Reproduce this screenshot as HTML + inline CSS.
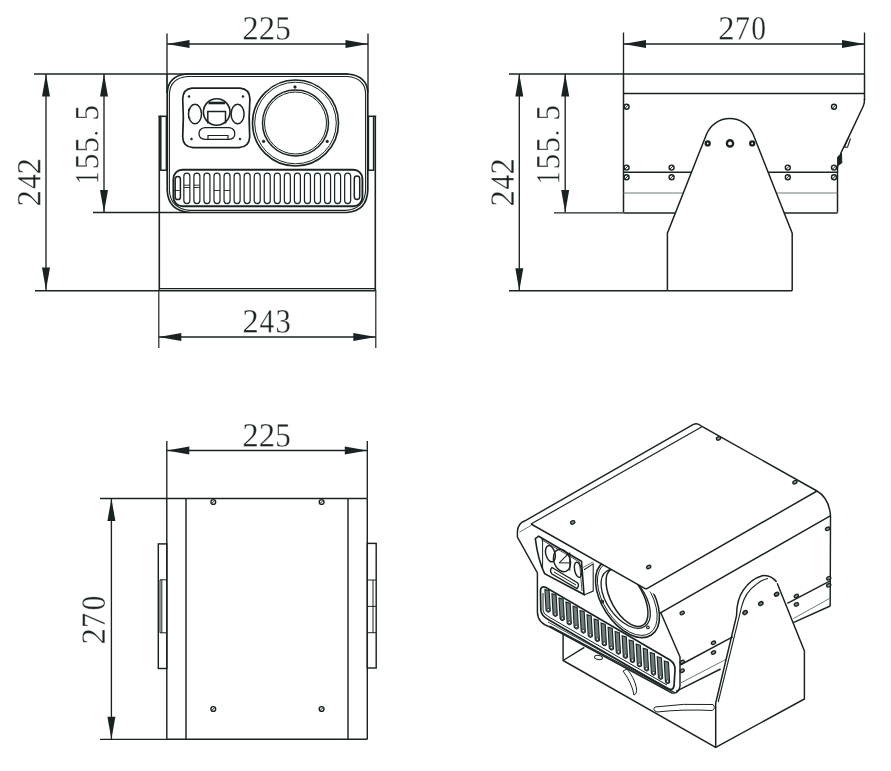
<!DOCTYPE html>
<html><head><meta charset="utf-8"><style>
html,body{margin:0;padding:0;background:#fff;}
svg{display:block;}
</style></head><body>
<svg width="891" height="771" viewBox="0 0 891 771">
<rect width="891" height="771" fill="#fff"/>
<line x1="167" y1="33.5" x2="167" y2="74" stroke="#1a2323" stroke-width="1.35"/>
<line x1="368" y1="33.5" x2="368" y2="93" stroke="#1a2323" stroke-width="1.35"/>
<line x1="167" y1="44" x2="368" y2="44" stroke="#1a2323" stroke-width="1.35"/>
<path d="M167,44 L189.5,40.0 L189.5,48.0 Z" fill="#1a2323"/>
<path d="M368,44 L345.5,40.0 L345.5,48.0 Z" fill="#1a2323"/>
<path d="M911 0H90V147L276 316Q455 473 539.0 570.0Q623 667 659.5 770.0Q696 873 696 1006Q696 1136 637.0 1204.0Q578 1272 444 1272Q391 1272 335.0 1257.5Q279 1243 236 1219L201 1055H135V1313Q317 1356 444 1356Q664 1356 774.5 1264.5Q885 1173 885 1006Q885 894 841.5 794.5Q798 695 708.0 596.5Q618 498 410 321Q321 245 221 154H911Z" transform="matrix(0.015956 0.000000 0.000000 -0.016593 242.364 39.500)" fill="#1a2323" stroke="#fff" stroke-width="0.4" vector-effect="non-scaling-stroke"/>
<path d="M911 0H90V147L276 316Q455 473 539.0 570.0Q623 667 659.5 770.0Q696 873 696 1006Q696 1136 637.0 1204.0Q578 1272 444 1272Q391 1272 335.0 1257.5Q279 1243 236 1219L201 1055H135V1313Q317 1356 444 1356Q664 1356 774.5 1264.5Q885 1173 885 1006Q885 894 841.5 794.5Q798 695 708.0 596.5Q618 498 410 321Q321 245 221 154H911Z" transform="matrix(0.015956 0.000000 0.000000 -0.016593 258.764 39.500)" fill="#1a2323" stroke="#fff" stroke-width="0.4" vector-effect="non-scaling-stroke"/>
<path d="M485 784Q717 784 830.5 689.0Q944 594 944 399Q944 197 821.0 88.5Q698 -20 469 -20Q279 -20 130 23L119 305H185L230 117Q274 93 335.5 78.0Q397 63 453 63Q611 63 685.5 137.5Q760 212 760 389Q760 513 728.0 576.5Q696 640 626.0 670.0Q556 700 438 700Q347 700 260 676H164V1341H844V1188H254V760Q362 784 485 784Z" transform="matrix(0.015273 0.000000 0.000000 -0.016593 275.183 39.500)" fill="#1a2323" stroke="#fff" stroke-width="0.4" vector-effect="non-scaling-stroke"/>
<line x1="34" y1="74" x2="348" y2="74" stroke="#1a2323" stroke-width="1.7"/>
<line x1="35" y1="290.7" x2="159.3" y2="290.7" stroke="#1a2323" stroke-width="1.35"/>
<line x1="46" y1="74" x2="46" y2="290" stroke="#1a2323" stroke-width="1.35"/>
<path d="M46,74 L42.0,96.5 L50.0,96.5 Z" fill="#1a2323"/>
<path d="M46,290 L42.0,267.5 L50.0,267.5 Z" fill="#1a2323"/>
<path d="M911 0H90V147L276 316Q455 473 539.0 570.0Q623 667 659.5 770.0Q696 873 696 1006Q696 1136 637.0 1204.0Q578 1272 444 1272Q391 1272 335.0 1257.5Q279 1243 236 1219L201 1055H135V1313Q317 1356 444 1356Q664 1356 774.5 1264.5Q885 1173 885 1006Q885 894 841.5 794.5Q798 695 708.0 596.5Q618 498 410 321Q321 245 221 154H911Z" transform="matrix(0.000000 -0.015956 -0.016593 0.000000 40.400 206.436)" fill="#1a2323" stroke="#fff" stroke-width="0.4" vector-effect="non-scaling-stroke"/>
<path d="M810 295V0H638V295H40V428L695 1348H810V438H992V295ZM638 1113H633L153 438H638Z" transform="matrix(0.000000 -0.014286 -0.016593 0.000000 40.400 188.871)" fill="#1a2323" stroke="#fff" stroke-width="0.4" vector-effect="non-scaling-stroke"/>
<path d="M911 0H90V147L276 316Q455 473 539.0 570.0Q623 667 659.5 770.0Q696 873 696 1006Q696 1136 637.0 1204.0Q578 1272 444 1272Q391 1272 335.0 1257.5Q279 1243 236 1219L201 1055H135V1313Q317 1356 444 1356Q664 1356 774.5 1264.5Q885 1173 885 1006Q885 894 841.5 794.5Q798 695 708.0 596.5Q618 498 410 321Q321 245 221 154H911Z" transform="matrix(0.000000 -0.015956 -0.016593 0.000000 40.400 174.336)" fill="#1a2323" stroke="#fff" stroke-width="0.4" vector-effect="non-scaling-stroke"/>
<line x1="93" y1="212.5" x2="190" y2="212.5" stroke="#1a2323" stroke-width="1.35"/>
<line x1="104" y1="74" x2="104" y2="212.5" stroke="#1a2323" stroke-width="1.35"/>
<path d="M104,74 L100.0,96.5 L108.0,96.5 Z" fill="#1a2323"/>
<path d="M104,212.5 L100.0,190.0 L108.0,190.0 Z" fill="#1a2323"/>
<path d="M627 80 901 53V0H180V53L455 80V1174L184 1077V1130L575 1352H627Z" transform="matrix(0.000000 -0.012621 -0.016593 0.000000 98.200 184.322)" fill="#1a2323" stroke="#fff" stroke-width="0.4" vector-effect="non-scaling-stroke"/>
<path d="M485 784Q717 784 830.5 689.0Q944 594 944 399Q944 197 821.0 88.5Q698 -20 469 -20Q279 -20 130 23L119 305H185L230 117Q274 93 335.5 78.0Q397 63 453 63Q611 63 685.5 137.5Q760 212 760 389Q760 513 728.0 576.5Q696 640 626.0 670.0Q556 700 438 700Q347 700 260 676H164V1341H844V1188H254V760Q362 784 485 784Z" transform="matrix(0.000000 -0.015273 -0.016593 0.000000 98.200 169.217)" fill="#1a2323" stroke="#fff" stroke-width="0.4" vector-effect="non-scaling-stroke"/>
<path d="M485 784Q717 784 830.5 689.0Q944 594 944 399Q944 197 821.0 88.5Q698 -20 469 -20Q279 -20 130 23L119 305H185L230 117Q274 93 335.5 78.0Q397 63 453 63Q611 63 685.5 137.5Q760 212 760 389Q760 513 728.0 576.5Q696 640 626.0 670.0Q556 700 438 700Q347 700 260 676H164V1341H844V1188H254V760Q362 784 485 784Z" transform="matrix(0.000000 -0.015273 -0.016593 0.000000 98.200 152.717)" fill="#1a2323" stroke="#fff" stroke-width="0.4" vector-effect="non-scaling-stroke"/>
<path d="M485 784Q717 784 830.5 689.0Q944 594 944 399Q944 197 821.0 88.5Q698 -20 469 -20Q279 -20 130 23L119 305H185L230 117Q274 93 335.5 78.0Q397 63 453 63Q611 63 685.5 137.5Q760 212 760 389Q760 513 728.0 576.5Q696 640 626.0 670.0Q556 700 438 700Q347 700 260 676H164V1341H844V1188H254V760Q362 784 485 784Z" transform="matrix(0.000000 -0.015273 -0.016593 0.000000 98.200 120.617)" fill="#1a2323" stroke="#fff" stroke-width="0.4" vector-effect="non-scaling-stroke"/>
<path d="M377 92Q377 43 342.5 7.0Q308 -29 256 -29Q204 -29 169.5 7.0Q135 43 135 92Q135 143 170.0 178.0Q205 213 256 213Q307 213 342.0 178.0Q377 143 377 92Z" transform="matrix(0.000000 -0.012200 -0.012200 0.000000 97.422 136.323)" fill="#1a2323" stroke="#fff" stroke-width="0.4" vector-effect="non-scaling-stroke"/>
<line x1="158.8" y1="290" x2="158.8" y2="348" stroke="#1a2323" stroke-width="1.2"/>
<line x1="375.8" y1="290" x2="375.8" y2="348" stroke="#1a2323" stroke-width="1.2"/>
<line x1="158.8" y1="337" x2="375.8" y2="337" stroke="#1a2323" stroke-width="1.35"/>
<path d="M158.8,337 L181.3,333.0 L181.3,341.0 Z" fill="#1a2323"/>
<path d="M375.8,337 L353.3,333.0 L353.3,341.0 Z" fill="#1a2323"/>
<path d="M911 0H90V147L276 316Q455 473 539.0 570.0Q623 667 659.5 770.0Q696 873 696 1006Q696 1136 637.0 1204.0Q578 1272 444 1272Q391 1272 335.0 1257.5Q279 1243 236 1219L201 1055H135V1313Q317 1356 444 1356Q664 1356 774.5 1264.5Q885 1173 885 1006Q885 894 841.5 794.5Q798 695 708.0 596.5Q618 498 410 321Q321 245 221 154H911Z" transform="matrix(0.015956 0.000000 0.000000 -0.016593 242.364 332.500)" fill="#1a2323" stroke="#fff" stroke-width="0.4" vector-effect="non-scaling-stroke"/>
<path d="M810 295V0H638V295H40V428L695 1348H810V438H992V295ZM638 1113H633L153 438H638Z" transform="matrix(0.014286 0.000000 0.000000 -0.016593 259.579 332.500)" fill="#1a2323" stroke="#fff" stroke-width="0.4" vector-effect="non-scaling-stroke"/>
<path d="M944 365Q944 184 820.0 82.0Q696 -20 469 -20Q279 -20 109 23L98 305H164L209 117Q248 95 319.5 79.0Q391 63 453 63Q610 63 685.0 135.0Q760 207 760 375Q760 507 691.0 575.5Q622 644 477 651L334 659V741L477 750Q590 756 644.0 820.0Q698 884 698 1014Q698 1149 639.5 1210.5Q581 1272 453 1272Q400 1272 342.0 1257.5Q284 1243 240 1219L205 1055H139V1313Q238 1339 310.0 1347.5Q382 1356 453 1356Q883 1356 883 1026Q883 887 806.5 804.5Q730 722 590 702Q772 681 858.0 597.5Q944 514 944 365Z" transform="matrix(0.015130 0.000000 0.000000 -0.016593 275.417 332.500)" fill="#1a2323" stroke="#fff" stroke-width="0.4" vector-effect="non-scaling-stroke"/>
<path d="M186,74 L348,74 Q367.5,76 367.8,93 L367.8,190 Q367,211 347,212.5 L190,212.5 Q168,211 167.2,190 L167.2,93 Q168,76 186,74 Z" stroke="#1a2323" stroke-width="1.7" fill="none"/>
<line x1="167" y1="74" x2="167" y2="93" stroke="#1a2323" stroke-width="1.7"/>
<path d="M188,76.5 L347,76.5 Q365.3,78 365.6,94 L365.6,190 Q365,208.5 346,210.4 L190,210.4 Q170,208.5 169.4,190 L169.4,94 Q170,78 188,76.5 Z" stroke="#1a2323" stroke-width="1.1" fill="none"/>
<rect x="160.8" y="116.3" width="5.6" height="53.9" rx="0" stroke="#1a2323" stroke-width="1.5" fill="none"/>
<line x1="158.3" y1="116.3" x2="160.8" y2="116.3" stroke="#1a2323" stroke-width="1.5"/>
<line x1="159.3" y1="116.3" x2="159.3" y2="290.7" stroke="#1a2323" stroke-width="1.6"/>
<rect x="368.4" y="116.3" width="5.2" height="53.9" rx="0" stroke="#1a2323" stroke-width="1.5" fill="none"/>
<line x1="373.6" y1="116.3" x2="376.2" y2="116.3" stroke="#1a2323" stroke-width="1.5"/>
<line x1="375.3" y1="116.3" x2="375.3" y2="290.7" stroke="#1a2323" stroke-width="1.6"/>
<line x1="159.3" y1="288.6" x2="375.3" y2="288.6" stroke="#1a2323" stroke-width="1.2"/>
<line x1="159.3" y1="290.7" x2="375.3" y2="290.7" stroke="#1a2323" stroke-width="1.4"/>
<path d="M192,88.2 L240,88.2 Q249.6,89 249.9,99 Q248.5,117 249.7,137 Q249.2,147 239,147.6 L193,147.6 Q183,147 182.7,137 Q184,117 182.7,99 Q183,89 192,88.2 Z" stroke="#1a2323" stroke-width="1.7" fill="none"/>
<circle cx="189" cy="96.5" r="0.9" stroke="#1a2323" stroke-width="0.8" fill="#1a2323"/>
<circle cx="243" cy="96.5" r="0.9" stroke="#1a2323" stroke-width="0.8" fill="#1a2323"/>
<circle cx="191.5" cy="139" r="0.9" stroke="#1a2323" stroke-width="0.8" fill="#1a2323"/>
<circle cx="240" cy="139" r="0.9" stroke="#1a2323" stroke-width="0.8" fill="#1a2323"/>
<ellipse cx="195" cy="114" rx="6.5" ry="9.7" transform="rotate(0 195 114)" stroke="#1a2323" stroke-width="1.5" fill="none"/>
<path d="M190.5,109 L188.5,109 L188.5,118 L190.5,118" stroke="#1a2323" stroke-width="1.0" fill="none"/>
<circle cx="216.7" cy="112" r="13.3" stroke="#1a2323" stroke-width="1.6" fill="none"/>
<path d="M207.8,123.5 L207.8,111.6 L225.5,111.6 L225.5,123.5" stroke="#1a2323" stroke-width="1.5" fill="none"/>
<path d="M208.5,103 L225,103" stroke="#1a2323" stroke-width="2.6" fill="none"/>
<ellipse cx="237.6" cy="114" rx="6.5" ry="9.7" transform="rotate(0 237.6 114)" stroke="#1a2323" stroke-width="1.5" fill="none"/>
<path d="M205,127.7 L229,127.7 Q234.8,128.5 234.8,133.5 Q234.8,139 229,139.4 L205,139.4 Q199,139 199,133.5 Q199,128.5 205,127.7 Z" stroke="#1a2323" stroke-width="1.3" fill="none"/>
<path d="M208,139.2 L208,135.5 L228,135.5 L228,139.2" stroke="#1a2323" stroke-width="1.2" fill="none"/>
<circle cx="295.5" cy="123" r="43" stroke="#1a2323" stroke-width="1.6" fill="none"/>
<circle cx="295.5" cy="123" r="40.8" stroke="#1a2323" stroke-width="1.0" fill="none"/>
<circle cx="295.5" cy="123" r="33" stroke="#1a2323" stroke-width="1.5" fill="none"/>
<circle cx="295.5" cy="123" r="31" stroke="#1a2323" stroke-width="1.0" fill="none"/>
<circle cx="295" cy="87" r="1.2" stroke="#1a2323" stroke-width="0.9" fill="#1a2323"/>
<circle cx="263.6" cy="141.4" r="1.2" stroke="#1a2323" stroke-width="0.9" fill="#1a2323"/>
<circle cx="327.2" cy="141.4" r="1.2" stroke="#1a2323" stroke-width="0.9" fill="#1a2323"/>
<rect x="173.4" y="169.8" width="189" height="36.5" rx="9" stroke="#1a2323" stroke-width="1.9" fill="none"/>
<rect x="175.2" y="176.5" width="5.2" height="23" rx="2.6" stroke="#1a2323" stroke-width="1.5" fill="none"/>
<line x1="173.8" y1="190.5" x2="179.8" y2="190.5" stroke="#1a2323" stroke-width="0.9"/>
<rect x="183.85000000000002" y="173.2" width="6.0" height="30.4" rx="3.0" stroke="#1a2323" stroke-width="1.2" fill="none"/>
<line x1="183.85000000000002" y1="185.2" x2="189.85000000000002" y2="185.2" stroke="#1a2323" stroke-width="0.9"/>
<line x1="183.85000000000002" y1="187.5" x2="189.85000000000002" y2="187.5" stroke="#1a2323" stroke-width="0.9"/>
<rect x="193.9" y="173.2" width="6.0" height="30.4" rx="3.0" stroke="#1a2323" stroke-width="1.2" fill="none"/>
<line x1="193.9" y1="185.2" x2="199.9" y2="185.2" stroke="#1a2323" stroke-width="0.9"/>
<line x1="193.9" y1="187.5" x2="199.9" y2="187.5" stroke="#1a2323" stroke-width="0.9"/>
<rect x="203.95000000000002" y="173.2" width="6.0" height="30.4" rx="3.0" stroke="#1a2323" stroke-width="1.2" fill="none"/>
<rect x="214.0" y="173.2" width="6.0" height="30.4" rx="3.0" stroke="#1a2323" stroke-width="1.2" fill="none"/>
<line x1="214.0" y1="190.5" x2="220.0" y2="190.5" stroke="#1a2323" stroke-width="0.9"/>
<rect x="224.05" y="173.2" width="6.0" height="30.4" rx="3.0" stroke="#1a2323" stroke-width="1.2" fill="none"/>
<line x1="224.05" y1="190.5" x2="230.05" y2="190.5" stroke="#1a2323" stroke-width="0.9"/>
<rect x="234.10000000000002" y="173.2" width="6.0" height="30.4" rx="3.0" stroke="#1a2323" stroke-width="1.2" fill="none"/>
<rect x="244.15000000000003" y="173.2" width="6.0" height="30.4" rx="3.0" stroke="#1a2323" stroke-width="1.2" fill="none"/>
<rect x="254.20000000000005" y="173.2" width="6.0" height="30.4" rx="3.0" stroke="#1a2323" stroke-width="1.2" fill="none"/>
<rect x="264.25" y="173.2" width="6.0" height="30.4" rx="3.0" stroke="#1a2323" stroke-width="1.2" fill="none"/>
<rect x="274.3" y="173.2" width="6.0" height="30.4" rx="3.0" stroke="#1a2323" stroke-width="1.2" fill="none"/>
<rect x="284.35" y="173.2" width="6.0" height="30.4" rx="3.0" stroke="#1a2323" stroke-width="1.2" fill="none"/>
<rect x="294.40000000000003" y="173.2" width="6.0" height="30.4" rx="3.0" stroke="#1a2323" stroke-width="1.2" fill="none"/>
<rect x="304.45000000000005" y="173.2" width="6.0" height="30.4" rx="3.0" stroke="#1a2323" stroke-width="1.2" fill="none"/>
<rect x="314.5" y="173.2" width="6.0" height="30.4" rx="3.0" stroke="#1a2323" stroke-width="1.2" fill="none"/>
<rect x="324.55" y="173.2" width="6.0" height="30.4" rx="3.0" stroke="#1a2323" stroke-width="1.2" fill="none"/>
<rect x="334.6" y="173.2" width="6.0" height="30.4" rx="3.0" stroke="#1a2323" stroke-width="1.2" fill="none"/>
<rect x="344.65000000000003" y="173.2" width="6.0" height="30.4" rx="3.0" stroke="#1a2323" stroke-width="1.2" fill="none"/>
<rect x="354.3" y="176" width="5.4" height="23.5" rx="2.7" stroke="#1a2323" stroke-width="1.5" fill="none"/>
<line x1="623.5" y1="32.5" x2="623.5" y2="74" stroke="#1a2323" stroke-width="1.35"/>
<line x1="623.5" y1="74" x2="623.5" y2="212.5" stroke="#1a2323" stroke-width="1.5"/>
<line x1="864.5" y1="32.5" x2="864.5" y2="74" stroke="#1a2323" stroke-width="1.35"/>
<line x1="864.5" y1="74" x2="864.5" y2="100" stroke="#1a2323" stroke-width="1.5"/>
<line x1="623.5" y1="44" x2="864.5" y2="44" stroke="#1a2323" stroke-width="1.35"/>
<path d="M623.5,44 L646.0,40.0 L646.0,48.0 Z" fill="#1a2323"/>
<path d="M864.5,44 L842.0,40.0 L842.0,48.0 Z" fill="#1a2323"/>
<path d="M911 0H90V147L276 316Q455 473 539.0 570.0Q623 667 659.5 770.0Q696 873 696 1006Q696 1136 637.0 1204.0Q578 1272 444 1272Q391 1272 335.0 1257.5Q279 1243 236 1219L201 1055H135V1313Q317 1356 444 1356Q664 1356 774.5 1264.5Q885 1173 885 1006Q885 894 841.5 794.5Q798 695 708.0 596.5Q618 498 410 321Q321 245 221 154H911Z" transform="matrix(0.015956 0.000000 0.000000 -0.016593 718.214 39.500)" fill="#1a2323" stroke="#fff" stroke-width="0.4" vector-effect="non-scaling-stroke"/>
<path d="M201 1024H135V1341H965V1264L367 0H238L825 1188H236Z" transform="matrix(0.014819 0.000000 0.000000 -0.016593 734.849 39.500)" fill="#1a2323" stroke="#fff" stroke-width="0.4" vector-effect="non-scaling-stroke"/>
<path d="M946 676Q946 -20 506 -20Q294 -20 186.0 158.0Q78 336 78 676Q78 1009 186.0 1185.5Q294 1362 514 1362Q726 1362 836.0 1187.5Q946 1013 946 676ZM762 676Q762 998 701.0 1140.0Q640 1282 506 1282Q376 1282 319.0 1148.0Q262 1014 262 676Q262 336 320.0 197.5Q378 59 506 59Q638 59 700.0 204.5Q762 350 762 676Z" transform="matrix(0.014401 0.000000 0.000000 -0.016593 751.277 39.500)" fill="#1a2323" stroke="#fff" stroke-width="0.4" vector-effect="non-scaling-stroke"/>
<line x1="509" y1="74" x2="623.5" y2="74" stroke="#1a2323" stroke-width="1.35"/>
<line x1="623.5" y1="74" x2="864.5" y2="74" stroke="#1a2323" stroke-width="1.5"/>
<line x1="623.5" y1="93.6" x2="864.5" y2="93.6" stroke="#1a2323" stroke-width="1.5"/>
<path d="M864.5,99 Q864.5,104 863.3,106 L849,136.4 L841,152.7 L837.5,167.3 L837.5,212.5" stroke="#1a2323" stroke-width="1.5" fill="none"/>
<path d="M849,136.4 L844.5,147.3 L847.5,147.3 L850.5,138.5" stroke="#1a2323" stroke-width="1.1" fill="none"/>
<path d="M841.5,153.5 L837.6,157 L837.6,165.5 L841.8,163 Z" stroke="#1a2323" stroke-width="1.0" fill="#1a2323"/>
<line x1="623.5" y1="172.2" x2="691.4" y2="172.2" stroke="#1a2323" stroke-width="1.5"/>
<line x1="768.2" y1="172.2" x2="837.5" y2="172.2" stroke="#1a2323" stroke-width="1.5"/>
<line x1="623.5" y1="193" x2="683.2" y2="193" stroke="#6c7c7c" stroke-width="1.2"/>
<line x1="776.4" y1="193" x2="837.5" y2="193" stroke="#6c7c7c" stroke-width="1.2"/>
<line x1="554" y1="212.9" x2="623.5" y2="212.9" stroke="#1a2323" stroke-width="1.35"/>
<line x1="623.5" y1="212.9" x2="675.1" y2="212.9" stroke="#1a2323" stroke-width="1.5"/>
<line x1="783.8" y1="212.9" x2="837.5" y2="212.9" stroke="#1a2323" stroke-width="1.5"/>
<path d="M667.4,290.7 L667.4,233.2 L706.5,134.2 A25.2,25.2 0 0 1 753.1,134.2 L792.2,233.2 L792.2,290.7" stroke="#1a2323" stroke-width="1.5" fill="none"/>
<line x1="509" y1="290.7" x2="667.4" y2="290.7" stroke="#1a2323" stroke-width="1.35"/>
<line x1="667.4" y1="290.7" x2="792.2" y2="290.7" stroke="#1a2323" stroke-width="1.5"/>
<circle cx="707.7" cy="143.4" r="2.0" stroke="#1a2323" stroke-width="2.3" fill="none"/>
<circle cx="730" cy="143.4" r="3.1" stroke="#1a2323" stroke-width="2.4" fill="none"/>
<circle cx="752.2" cy="143.4" r="2.0" stroke="#1a2323" stroke-width="2.3" fill="none"/>
<circle cx="626.6" cy="106.7" r="2.5" stroke="#1a2323" stroke-width="1.4" fill="none"/>
<line x1="625.1" y1="108.2" x2="628.1" y2="105.2" stroke="#1a2323" stroke-width="1.0"/>
<circle cx="834" cy="106.7" r="2.5" stroke="#1a2323" stroke-width="1.4" fill="none"/>
<line x1="832.5" y1="108.2" x2="835.5" y2="105.2" stroke="#1a2323" stroke-width="1.0"/>
<circle cx="626.6" cy="167.6" r="2.5" stroke="#1a2323" stroke-width="1.4" fill="none"/>
<line x1="625.1" y1="169.1" x2="628.1" y2="166.1" stroke="#1a2323" stroke-width="1.0"/>
<circle cx="626.6" cy="177.3" r="2.5" stroke="#1a2323" stroke-width="1.4" fill="none"/>
<line x1="625.1" y1="178.8" x2="628.1" y2="175.8" stroke="#1a2323" stroke-width="1.0"/>
<circle cx="671.6" cy="167.6" r="2.5" stroke="#1a2323" stroke-width="1.4" fill="none"/>
<line x1="670.1" y1="169.1" x2="673.1" y2="166.1" stroke="#1a2323" stroke-width="1.0"/>
<circle cx="671.6" cy="177.3" r="2.5" stroke="#1a2323" stroke-width="1.4" fill="none"/>
<line x1="670.1" y1="178.8" x2="673.1" y2="175.8" stroke="#1a2323" stroke-width="1.0"/>
<circle cx="787.8" cy="167.6" r="2.5" stroke="#1a2323" stroke-width="1.4" fill="none"/>
<line x1="786.3" y1="169.1" x2="789.3" y2="166.1" stroke="#1a2323" stroke-width="1.0"/>
<circle cx="787.8" cy="177.3" r="2.5" stroke="#1a2323" stroke-width="1.4" fill="none"/>
<line x1="786.3" y1="178.8" x2="789.3" y2="175.8" stroke="#1a2323" stroke-width="1.0"/>
<circle cx="834" cy="167.6" r="2.5" stroke="#1a2323" stroke-width="1.4" fill="none"/>
<line x1="832.5" y1="169.1" x2="835.5" y2="166.1" stroke="#1a2323" stroke-width="1.0"/>
<circle cx="834" cy="177.3" r="2.5" stroke="#1a2323" stroke-width="1.4" fill="none"/>
<line x1="832.5" y1="178.8" x2="835.5" y2="175.8" stroke="#1a2323" stroke-width="1.0"/>
<line x1="519.3" y1="74" x2="519.3" y2="290.7" stroke="#1a2323" stroke-width="1.35"/>
<path d="M519.3,74 L515.3,96.5 L523.3,96.5 Z" fill="#1a2323"/>
<path d="M519.3,290.7 L515.3,268.2 L523.3,268.2 Z" fill="#1a2323"/>
<path d="M911 0H90V147L276 316Q455 473 539.0 570.0Q623 667 659.5 770.0Q696 873 696 1006Q696 1136 637.0 1204.0Q578 1272 444 1272Q391 1272 335.0 1257.5Q279 1243 236 1219L201 1055H135V1313Q317 1356 444 1356Q664 1356 774.5 1264.5Q885 1173 885 1006Q885 894 841.5 794.5Q798 695 708.0 596.5Q618 498 410 321Q321 245 221 154H911Z" transform="matrix(0.000000 -0.015956 -0.016593 0.000000 513.800 206.486)" fill="#1a2323" stroke="#fff" stroke-width="0.4" vector-effect="non-scaling-stroke"/>
<path d="M810 295V0H638V295H40V428L695 1348H810V438H992V295ZM638 1113H633L153 438H638Z" transform="matrix(0.000000 -0.014286 -0.016593 0.000000 513.800 189.471)" fill="#1a2323" stroke="#fff" stroke-width="0.4" vector-effect="non-scaling-stroke"/>
<path d="M911 0H90V147L276 316Q455 473 539.0 570.0Q623 667 659.5 770.0Q696 873 696 1006Q696 1136 637.0 1204.0Q578 1272 444 1272Q391 1272 335.0 1257.5Q279 1243 236 1219L201 1055H135V1313Q317 1356 444 1356Q664 1356 774.5 1264.5Q885 1173 885 1006Q885 894 841.5 794.5Q798 695 708.0 596.5Q618 498 410 321Q321 245 221 154H911Z" transform="matrix(0.000000 -0.015956 -0.016593 0.000000 513.800 174.486)" fill="#1a2323" stroke="#fff" stroke-width="0.4" vector-effect="non-scaling-stroke"/>
<line x1="565.2" y1="74" x2="565.2" y2="212.5" stroke="#1a2323" stroke-width="1.35"/>
<path d="M565.2,74 L561.2,96.5 L569.2,96.5 Z" fill="#1a2323"/>
<path d="M565.2,212.5 L561.2,190.0 L569.2,190.0 Z" fill="#1a2323"/>
<path d="M627 80 901 53V0H180V53L455 80V1174L184 1077V1130L575 1352H627Z" transform="matrix(0.000000 -0.012621 -0.016593 0.000000 559.300 184.322)" fill="#1a2323" stroke="#fff" stroke-width="0.4" vector-effect="non-scaling-stroke"/>
<path d="M485 784Q717 784 830.5 689.0Q944 594 944 399Q944 197 821.0 88.5Q698 -20 469 -20Q279 -20 130 23L119 305H185L230 117Q274 93 335.5 78.0Q397 63 453 63Q611 63 685.5 137.5Q760 212 760 389Q760 513 728.0 576.5Q696 640 626.0 670.0Q556 700 438 700Q347 700 260 676H164V1341H844V1188H254V760Q362 784 485 784Z" transform="matrix(0.000000 -0.015273 -0.016593 0.000000 559.300 169.417)" fill="#1a2323" stroke="#fff" stroke-width="0.4" vector-effect="non-scaling-stroke"/>
<path d="M485 784Q717 784 830.5 689.0Q944 594 944 399Q944 197 821.0 88.5Q698 -20 469 -20Q279 -20 130 23L119 305H185L230 117Q274 93 335.5 78.0Q397 63 453 63Q611 63 685.5 137.5Q760 212 760 389Q760 513 728.0 576.5Q696 640 626.0 670.0Q556 700 438 700Q347 700 260 676H164V1341H844V1188H254V760Q362 784 485 784Z" transform="matrix(0.000000 -0.015273 -0.016593 0.000000 559.300 152.617)" fill="#1a2323" stroke="#fff" stroke-width="0.4" vector-effect="non-scaling-stroke"/>
<path d="M485 784Q717 784 830.5 689.0Q944 594 944 399Q944 197 821.0 88.5Q698 -20 469 -20Q279 -20 130 23L119 305H185L230 117Q274 93 335.5 78.0Q397 63 453 63Q611 63 685.5 137.5Q760 212 760 389Q760 513 728.0 576.5Q696 640 626.0 670.0Q556 700 438 700Q347 700 260 676H164V1341H844V1188H254V760Q362 784 485 784Z" transform="matrix(0.000000 -0.015273 -0.016593 0.000000 559.300 120.617)" fill="#1a2323" stroke="#fff" stroke-width="0.4" vector-effect="non-scaling-stroke"/>
<path d="M377 92Q377 43 342.5 7.0Q308 -29 256 -29Q204 -29 169.5 7.0Q135 43 135 92Q135 143 170.0 178.0Q205 213 256 213Q307 213 342.0 178.0Q377 143 377 92Z" transform="matrix(0.000000 -0.012200 -0.012200 0.000000 558.522 136.123)" fill="#1a2323" stroke="#fff" stroke-width="0.4" vector-effect="non-scaling-stroke"/>
<line x1="166.8" y1="441" x2="166.8" y2="498.5" stroke="#1a2323" stroke-width="1.35"/>
<line x1="367.3" y1="441" x2="367.3" y2="498.5" stroke="#1a2323" stroke-width="1.35"/>
<line x1="166.8" y1="498.5" x2="166.8" y2="739.3" stroke="#1a2323" stroke-width="1.45"/>
<line x1="367.3" y1="498.5" x2="367.3" y2="739.3" stroke="#1a2323" stroke-width="1.45"/>
<line x1="166.8" y1="450.5" x2="367.3" y2="450.5" stroke="#1a2323" stroke-width="1.35"/>
<path d="M166.8,450.5 L189.3,446.5 L189.3,454.5 Z" fill="#1a2323"/>
<path d="M367.3,450.5 L344.8,446.5 L344.8,454.5 Z" fill="#1a2323"/>
<path d="M911 0H90V147L276 316Q455 473 539.0 570.0Q623 667 659.5 770.0Q696 873 696 1006Q696 1136 637.0 1204.0Q578 1272 444 1272Q391 1272 335.0 1257.5Q279 1243 236 1219L201 1055H135V1313Q317 1356 444 1356Q664 1356 774.5 1264.5Q885 1173 885 1006Q885 894 841.5 794.5Q798 695 708.0 596.5Q618 498 410 321Q321 245 221 154H911Z" transform="matrix(0.015956 0.000000 0.000000 -0.016593 242.364 446.500)" fill="#1a2323" stroke="#fff" stroke-width="0.4" vector-effect="non-scaling-stroke"/>
<path d="M911 0H90V147L276 316Q455 473 539.0 570.0Q623 667 659.5 770.0Q696 873 696 1006Q696 1136 637.0 1204.0Q578 1272 444 1272Q391 1272 335.0 1257.5Q279 1243 236 1219L201 1055H135V1313Q317 1356 444 1356Q664 1356 774.5 1264.5Q885 1173 885 1006Q885 894 841.5 794.5Q798 695 708.0 596.5Q618 498 410 321Q321 245 221 154H911Z" transform="matrix(0.015956 0.000000 0.000000 -0.016593 258.764 446.500)" fill="#1a2323" stroke="#fff" stroke-width="0.4" vector-effect="non-scaling-stroke"/>
<path d="M485 784Q717 784 830.5 689.0Q944 594 944 399Q944 197 821.0 88.5Q698 -20 469 -20Q279 -20 130 23L119 305H185L230 117Q274 93 335.5 78.0Q397 63 453 63Q611 63 685.5 137.5Q760 212 760 389Q760 513 728.0 576.5Q696 640 626.0 670.0Q556 700 438 700Q347 700 260 676H164V1341H844V1188H254V760Q362 784 485 784Z" transform="matrix(0.015273 0.000000 0.000000 -0.016593 275.183 446.500)" fill="#1a2323" stroke="#fff" stroke-width="0.4" vector-effect="non-scaling-stroke"/>
<line x1="100" y1="498.5" x2="166.8" y2="498.5" stroke="#1a2323" stroke-width="1.35"/>
<line x1="100" y1="739.3" x2="166.8" y2="739.3" stroke="#1a2323" stroke-width="1.35"/>
<line x1="166.8" y1="498.5" x2="367.3" y2="498.5" stroke="#1a2323" stroke-width="1.45"/>
<line x1="166.8" y1="739.3" x2="367.3" y2="739.3" stroke="#1a2323" stroke-width="1.45"/>
<line x1="186" y1="498.5" x2="186" y2="739.3" stroke="#1a2323" stroke-width="1.45"/>
<line x1="348" y1="498.5" x2="348" y2="739.3" stroke="#1a2323" stroke-width="1.45"/>
<line x1="111.4" y1="498.5" x2="111.4" y2="739.3" stroke="#1a2323" stroke-width="1.35"/>
<path d="M111.4,498.5 L107.4,521.0 L115.4,521.0 Z" fill="#1a2323"/>
<path d="M111.4,739.3 L107.4,716.8 L115.4,716.8 Z" fill="#1a2323"/>
<path d="M911 0H90V147L276 316Q455 473 539.0 570.0Q623 667 659.5 770.0Q696 873 696 1006Q696 1136 637.0 1204.0Q578 1272 444 1272Q391 1272 335.0 1257.5Q279 1243 236 1219L201 1055H135V1313Q317 1356 444 1356Q664 1356 774.5 1264.5Q885 1173 885 1006Q885 894 841.5 794.5Q798 695 708.0 596.5Q618 498 410 321Q321 245 221 154H911Z" transform="matrix(0.000000 -0.015956 -0.016593 0.000000 104.800 644.436)" fill="#1a2323" stroke="#fff" stroke-width="0.4" vector-effect="non-scaling-stroke"/>
<path d="M201 1024H135V1341H965V1264L367 0H238L825 1188H236Z" transform="matrix(0.000000 -0.014819 -0.016593 0.000000 104.800 628.101)" fill="#1a2323" stroke="#fff" stroke-width="0.4" vector-effect="non-scaling-stroke"/>
<path d="M946 676Q946 -20 506 -20Q294 -20 186.0 158.0Q78 336 78 676Q78 1009 186.0 1185.5Q294 1362 514 1362Q726 1362 836.0 1187.5Q946 1013 946 676ZM762 676Q762 998 701.0 1140.0Q640 1282 506 1282Q376 1282 319.0 1148.0Q262 1014 262 676Q262 336 320.0 197.5Q378 59 506 59Q638 59 700.0 204.5Q762 350 762 676Z" transform="matrix(0.000000 -0.014401 -0.016593 0.000000 104.800 610.373)" fill="#1a2323" stroke="#fff" stroke-width="0.4" vector-effect="non-scaling-stroke"/>
<rect x="158.3" y="543.9" width="8.5" height="124.6" rx="0" stroke="#1a2323" stroke-width="1.45" fill="none"/>
<path d="M166.8,579.8 L160,579.8 M160,579.8 L160,632.8 L166.8,632.8 M161.8,579.8 L161.8,632.8" stroke="#1a2323" stroke-width="1.0" fill="none"/>
<rect x="367.3" y="543.4" width="8.9" height="124.6" rx="0" stroke="#1a2323" stroke-width="1.45" fill="none"/>
<path d="M367.3,580 L376.2,580 M367.3,606.4 L376.2,606.4 M367.3,632.7 L376.2,632.7 M373,580 L373,632.7" stroke="#1a2323" stroke-width="1.0" fill="none"/>
<circle cx="213.3" cy="502" r="2.4" stroke="#1a2323" stroke-width="1.4" fill="none"/>
<line x1="211.86" y1="503.44" x2="214.74" y2="500.56" stroke="#1a2323" stroke-width="1.0"/>
<circle cx="321.6" cy="502" r="2.4" stroke="#1a2323" stroke-width="1.4" fill="none"/>
<line x1="320.16" y1="503.44" x2="323.04" y2="500.56" stroke="#1a2323" stroke-width="1.0"/>
<circle cx="213.3" cy="709" r="2.4" stroke="#1a2323" stroke-width="1.4" fill="none"/>
<line x1="211.86" y1="710.44" x2="214.74" y2="707.56" stroke="#1a2323" stroke-width="1.0"/>
<circle cx="321.6" cy="709" r="2.4" stroke="#1a2323" stroke-width="1.4" fill="none"/>
<line x1="320.16" y1="710.44" x2="323.04" y2="707.56" stroke="#1a2323" stroke-width="1.0"/>
<path d="M517.4,532 Q517.5,523.5 525,520.8 L693.4,424.4 Q697.5,422.3 701.5,426.2 L817,491 Q829,498 830.5,515.6 L830.2,606" stroke="#1a2323" stroke-width="1.45" fill="none"/>
<line x1="531" y1="524" x2="701.5" y2="427" stroke="#1a2323" stroke-width="1.2"/>
<line x1="531" y1="524" x2="646" y2="589.2" stroke="#1a2323" stroke-width="1.45"/>
<line x1="646" y1="589.2" x2="817" y2="491" stroke="#1a2323" stroke-width="1.45"/>
<line x1="659.5" y1="613.4" x2="830.7" y2="515.6" stroke="#1a2323" stroke-width="1.45"/>
<line x1="519.3" y1="532.2" x2="531" y2="525.5" stroke="#6c7c7c" stroke-width="1.0"/>
<path d="M517.4,532 L517.4,537 L537.4,573 L537.4,612 Q537.5,623 550,627 L672,693 Q679,694 680,686 L680,657 L660.5,612" stroke="#1a2323" stroke-width="1.45" fill="none"/>
<path d="M535.3,538.6 L538.7,536.2 L581.5,561.2 L584,594.5 L544.6,573.6 Q538,560 535.3,538.6 Z" stroke="#1a2323" stroke-width="1.6" fill="none"/>
<path d="M584,569.7 L593.2,563.9 L593.2,591.1 L584,595" stroke="#1a2323" stroke-width="1.1" fill="none"/>
<line x1="582.5" y1="567.8" x2="593.2" y2="561.9" stroke="#6c7c7c" stroke-width="1.0"/>
<path d="M542.6,538.6 L542.6,568.7" stroke="#1a2323" stroke-width="1.0" fill="none"/>
<path d="M541,539.5 L579.5,562 L582,591" stroke="#1a2323" stroke-width="0.8" fill="none"/>
<ellipse cx="550.4" cy="553.7" rx="4.6" ry="8.3" transform="rotate(-15 550.4 553.7)" stroke="#1a2323" stroke-width="1.5" fill="none"/>
<ellipse cx="562" cy="560.5" rx="8.2" ry="11.5" transform="rotate(-20 562 560.5)" stroke="#1a2323" stroke-width="1.4" fill="none"/>
<line x1="559.2" y1="562.9" x2="568.9" y2="553.2" stroke="#1a2323" stroke-width="1.1"/>
<line x1="569.8" y1="552.5" x2="569.8" y2="570.7" stroke="#1a2323" stroke-width="1.1"/>
<line x1="559.2" y1="562.9" x2="569.8" y2="562.9" stroke="#1a2323" stroke-width="1.0"/>
<ellipse cx="578" cy="569.8" rx="3.4" ry="7.7" transform="rotate(-12 578 569.8)" stroke="#1a2323" stroke-width="1.4" fill="none"/>
<path d="M552,567.5 L577,582.5 Q580,585 577,588.5 L552,574 Q549,570.5 552,567.5 Z" stroke="#1a2323" stroke-width="1.4" fill="none"/>
<path d="M554,572 L576,585" stroke="#1a2323" stroke-width="1.0" fill="none"/>
<clipPath id="lc"><polygon points="560,540.4 720,631.2 720,720 560,720"/></clipPath>
<g clip-path="url(#lc)">
<ellipse cx="627.5" cy="598.6" rx="25.4" ry="43.5" transform="rotate(-33.3 627.5 598.6)" stroke="#1a2323" stroke-width="1.6" fill="none"/>
<ellipse cx="627.3" cy="598.6" rx="23.3" ry="41.3" transform="rotate(-33.3 627.3 598.6)" stroke="#1a2323" stroke-width="0.9" fill="none"/>
<ellipse cx="625.7" cy="598.7" rx="18.7" ry="33.6" transform="rotate(-35 625.7 598.7)" stroke="#1a2323" stroke-width="1.3" fill="none"/>
<ellipse cx="627" cy="597.3" rx="16" ry="32.2" transform="rotate(-29 627 597.3)" stroke="#1a2323" stroke-width="1.5" fill="none"/>
</g>
<circle cx="647.9" cy="627.4" r="1.3" stroke="#1a2323" stroke-width="1.1" fill="none"/>
<circle cx="602.3" cy="601.5" r="1.3" stroke="#1a2323" stroke-width="1.1" fill="none"/>
<path d="M544.9,589.5 L546.1,610.5 Q548.2,613.5 550.3000000000001,611.0 L549.1,590.7 Z" stroke="#1a2323" stroke-width="1.1" fill="#6f7d7d"/>
<circle cx="548.2" cy="609.7" r="1.3" stroke="#1a2323" stroke-width="0.9" fill="#fff"/>
<path d="M551.92,593.7 L553.12,614.7 Q555.22,617.7 557.32,615.2 L556.12,594.9000000000001 Z" stroke="#1a2323" stroke-width="1.1" fill="#6f7d7d"/>
<circle cx="555.22" cy="613.9000000000001" r="1.3" stroke="#1a2323" stroke-width="0.9" fill="#fff"/>
<path d="M558.9399999999999,597.9 L560.14,618.9 Q562.24,621.9 564.34,619.4 L563.14,599.1 Z" stroke="#1a2323" stroke-width="1.1" fill="#6f7d7d"/>
<circle cx="562.24" cy="618.1" r="1.3" stroke="#1a2323" stroke-width="0.9" fill="#fff"/>
<path d="M565.9599999999999,602.1 L567.16,623.1 Q569.26,626.1 571.36,623.6 L570.16,603.3000000000001 Z" stroke="#1a2323" stroke-width="1.1" fill="#6f7d7d"/>
<circle cx="569.26" cy="622.3000000000001" r="1.3" stroke="#1a2323" stroke-width="0.9" fill="#fff"/>
<path d="M572.98,606.3 L574.1800000000001,627.3 Q576.2800000000001,630.3 578.3800000000001,627.8 L577.1800000000001,607.5 Z" stroke="#1a2323" stroke-width="1.1" fill="#6f7d7d"/>
<circle cx="576.2800000000001" cy="626.5" r="1.3" stroke="#1a2323" stroke-width="0.9" fill="#fff"/>
<path d="M580.0,610.5 L581.2,631.5 Q583.3000000000001,634.5 585.4000000000001,632.0 L584.2,611.7 Z" stroke="#1a2323" stroke-width="1.1" fill="#6f7d7d"/>
<circle cx="583.3000000000001" cy="630.7" r="1.3" stroke="#1a2323" stroke-width="0.9" fill="#fff"/>
<path d="M587.02,614.7 L588.22,635.7 Q590.32,638.7 592.4200000000001,636.2 L591.22,615.9000000000001 Z" stroke="#1a2323" stroke-width="1.1" fill="#6f7d7d"/>
<circle cx="590.32" cy="634.9000000000001" r="1.3" stroke="#1a2323" stroke-width="0.9" fill="#fff"/>
<path d="M594.04,618.9 L595.24,639.9 Q597.34,642.9 599.44,640.4 L598.24,620.1 Z" stroke="#1a2323" stroke-width="1.1" fill="#6f7d7d"/>
<circle cx="597.34" cy="639.1" r="1.3" stroke="#1a2323" stroke-width="0.9" fill="#fff"/>
<path d="M601.06,623.1 L602.26,644.1 Q604.36,647.1 606.46,644.6 L605.26,624.3000000000001 Z" stroke="#1a2323" stroke-width="1.1" fill="#6f7d7d"/>
<circle cx="604.36" cy="643.3000000000001" r="1.3" stroke="#1a2323" stroke-width="0.9" fill="#fff"/>
<path d="M608.0799999999999,627.3 L609.28,648.3 Q611.38,651.3 613.48,648.8 L612.28,628.5 Z" stroke="#1a2323" stroke-width="1.1" fill="#6f7d7d"/>
<circle cx="611.38" cy="647.5" r="1.3" stroke="#1a2323" stroke-width="0.9" fill="#fff"/>
<path d="M615.0999999999999,631.5 L616.3,652.5 Q618.4,655.5 620.5,653.0 L619.3,632.7 Z" stroke="#1a2323" stroke-width="1.1" fill="#6f7d7d"/>
<circle cx="618.4" cy="651.7" r="1.3" stroke="#1a2323" stroke-width="0.9" fill="#fff"/>
<path d="M622.12,635.7 L623.32,656.7 Q625.4200000000001,659.7 627.5200000000001,657.2 L626.32,636.9000000000001 Z" stroke="#1a2323" stroke-width="1.1" fill="#6f7d7d"/>
<circle cx="625.4200000000001" cy="655.9000000000001" r="1.3" stroke="#1a2323" stroke-width="0.9" fill="#fff"/>
<path d="M629.14,639.9 L630.34,660.9 Q632.44,663.9 634.5400000000001,661.4 L633.34,641.1 Z" stroke="#1a2323" stroke-width="1.1" fill="#6f7d7d"/>
<circle cx="632.44" cy="660.1" r="1.3" stroke="#1a2323" stroke-width="0.9" fill="#fff"/>
<path d="M636.16,644.1 L637.36,665.1 Q639.46,668.1 641.5600000000001,665.6 L640.36,645.3000000000001 Z" stroke="#1a2323" stroke-width="1.1" fill="#6f7d7d"/>
<circle cx="639.46" cy="664.3000000000001" r="1.3" stroke="#1a2323" stroke-width="0.9" fill="#fff"/>
<path d="M643.18,648.3 L644.38,669.3 Q646.48,672.3 648.58,669.8 L647.38,649.5 Z" stroke="#1a2323" stroke-width="1.1" fill="#6f7d7d"/>
<circle cx="646.48" cy="668.5" r="1.3" stroke="#1a2323" stroke-width="0.9" fill="#fff"/>
<path d="M650.1999999999999,652.5 L651.4,673.5 Q653.5,676.5 655.6,674.0 L654.4,653.7 Z" stroke="#1a2323" stroke-width="1.1" fill="#6f7d7d"/>
<circle cx="653.5" cy="672.7" r="1.3" stroke="#1a2323" stroke-width="0.9" fill="#fff"/>
<path d="M657.22,656.7 L658.4200000000001,677.7 Q660.5200000000001,680.7 662.6200000000001,678.2 L661.4200000000001,657.9000000000001 Z" stroke="#1a2323" stroke-width="1.1" fill="#6f7d7d"/>
<circle cx="660.5200000000001" cy="676.9000000000001" r="1.3" stroke="#1a2323" stroke-width="0.9" fill="#fff"/>
<path d="M664.24,660.9 L665.44,681.9 Q667.5400000000001,684.9 669.6400000000001,682.4 L668.44,662.1 Z" stroke="#1a2323" stroke-width="1.1" fill="#6f7d7d"/>
<circle cx="667.5400000000001" cy="681.1" r="1.3" stroke="#1a2323" stroke-width="0.9" fill="#fff"/>
<path d="M540.5,590.5 Q540.8,585.5 546,587.5 L670,660 Q675.5,664 675,670 L674,686 Q673,691.5 667,688.5 L549,620 Q541,615.5 540.8,610 Z" stroke="#1a2323" stroke-width="1.7" fill="none"/>
<path d="M543,593 L543,610 Q543,614 549,617 L667,685" stroke="#1a2323" stroke-width="1.0" fill="none"/>
<line x1="550" y1="626" x2="675" y2="692.8" stroke="#1a2323" stroke-width="1.1"/>
<line x1="548" y1="622" x2="672" y2="690" stroke="#1a2323" stroke-width="0.8"/>
<line x1="680.2" y1="665" x2="732.7" y2="636.8" stroke="#1a2323" stroke-width="1.45"/>
<line x1="680.2" y1="683.2" x2="726.7" y2="659" stroke="#6c7c7c" stroke-width="1.0"/>
<line x1="676" y1="691.3" x2="720.6" y2="669" stroke="#1a2323" stroke-width="1.45"/>
<line x1="787.3" y1="603.4" x2="829.7" y2="581.2" stroke="#1a2323" stroke-width="1.45"/>
<line x1="793.3" y1="618.6" x2="829.7" y2="598.4" stroke="#6c7c7c" stroke-width="1.0"/>
<line x1="793.3" y1="622.6" x2="830.2" y2="606" stroke="#1a2323" stroke-width="1.45"/>
<path d="M563.1,634.2 L563.1,660.5 L715.7,747.4 L804.4,699 L804.4,651 L777.2,583.2" stroke="#1a2323" stroke-width="1.45" fill="none"/>
<line x1="563.1" y1="660.5" x2="584.3" y2="647.4" stroke="#1a2323" stroke-width="1.45"/>
<path d="M715.7,747.4 L715.7,703 L736.6,615.3 Q736.5,600 743.3,590.1 Q751,579 762.2,575.8 Q770.5,574.5 776.6,582" stroke="#1a2323" stroke-width="1.5" fill="none"/>
<path d="M718.2,702 L741.5,607.2 Q745,592 755.9,584.7 Q762,579.5 768,578.5" stroke="#1a2323" stroke-width="1.1" fill="none"/>
<ellipse cx="745.1" cy="612.6" rx="2.3" ry="1.7" transform="rotate(-35 745.1 612.6)" stroke="#1a2323" stroke-width="1.5" fill="#7a8686"/>
<ellipse cx="760.8" cy="603.6" rx="2.3" ry="1.7" transform="rotate(-35 760.8 603.6)" stroke="#1a2323" stroke-width="1.5" fill="#7a8686"/>
<ellipse cx="776.6" cy="594.2" rx="2.3" ry="1.7" transform="rotate(-35 776.6 594.2)" stroke="#1a2323" stroke-width="1.5" fill="#7a8686"/>
<path d="M655,707 Q683,703 713,704.5 Q716,707.5 712.5,710.5 Q683,709 657,712 Q652,710 655,707 Z" stroke="#1a2323" stroke-width="1.0" fill="none"/>
<path d="M623,671 Q632,683 634,695 Q637,694 636.5,688 Q634,677 627,669 Z" stroke="#1a2323" stroke-width="1.0" fill="none"/>
<ellipse cx="598.5" cy="657.5" rx="4" ry="2" transform="rotate(10 598.5 657.5)" stroke="#1a2323" stroke-width="1.0" fill="none"/>
<ellipse cx="572.7" cy="522.4" rx="2.2" ry="1.6" transform="rotate(-25 572.7 522.4)" stroke="#1a2323" stroke-width="1.3" fill="#8a9696"/>
<ellipse cx="648.7" cy="567" rx="2.2" ry="1.6" transform="rotate(-25 648.7 567)" stroke="#1a2323" stroke-width="1.3" fill="#8a9696"/>
<ellipse cx="718.5" cy="438.4" rx="2.2" ry="1.6" transform="rotate(-25 718.5 438.4)" stroke="#1a2323" stroke-width="1.3" fill="#8a9696"/>
<ellipse cx="794.9" cy="482.2" rx="2.2" ry="1.6" transform="rotate(-25 794.9 482.2)" stroke="#1a2323" stroke-width="1.3" fill="#8a9696"/>
<ellipse cx="827.6" cy="528.8" rx="2.2" ry="1.6" transform="rotate(-25 827.6 528.8)" stroke="#1a2323" stroke-width="1.3" fill="#8a9696"/>
<ellipse cx="682.2" cy="613" rx="2.2" ry="1.6" transform="rotate(-25 682.2 613)" stroke="#1a2323" stroke-width="1.3" fill="#8a9696"/>
<ellipse cx="713.5" cy="642.8" rx="2.2" ry="1.6" transform="rotate(-25 713.5 642.8)" stroke="#1a2323" stroke-width="1.3" fill="#8a9696"/>
<ellipse cx="713.5" cy="652.5" rx="2.2" ry="1.6" transform="rotate(-25 713.5 652.5)" stroke="#1a2323" stroke-width="1.3" fill="#8a9696"/>
<ellipse cx="682.2" cy="662" rx="2.2" ry="1.6" transform="rotate(-25 682.2 662)" stroke="#1a2323" stroke-width="1.3" fill="#8a9696"/>
<ellipse cx="682.2" cy="670.7" rx="2.2" ry="1.6" transform="rotate(-25 682.2 670.7)" stroke="#1a2323" stroke-width="1.3" fill="#8a9696"/>
<ellipse cx="796.4" cy="596" rx="2.2" ry="1.6" transform="rotate(-25 796.4 596)" stroke="#1a2323" stroke-width="1.3" fill="#8a9696"/>
<ellipse cx="796.4" cy="604.4" rx="2.2" ry="1.6" transform="rotate(-25 796.4 604.4)" stroke="#1a2323" stroke-width="1.3" fill="#8a9696"/>
<ellipse cx="828.7" cy="578.2" rx="2.2" ry="1.6" transform="rotate(-25 828.7 578.2)" stroke="#1a2323" stroke-width="1.3" fill="#8a9696"/>
<ellipse cx="828.7" cy="585.3" rx="2.2" ry="1.6" transform="rotate(-25 828.7 585.3)" stroke="#1a2323" stroke-width="1.3" fill="#8a9696"/>
</svg>
</body></html>
